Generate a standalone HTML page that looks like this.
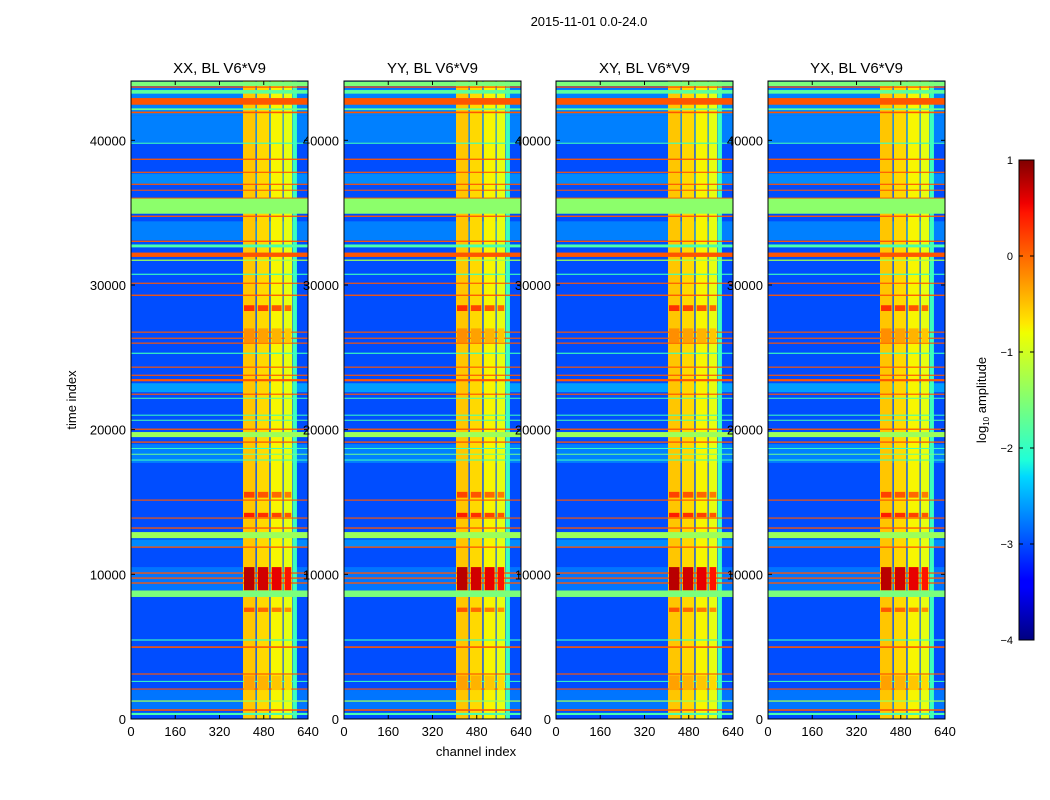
<!DOCTYPE html>
<html><head><meta charset="utf-8"><style>
body{margin:0;background:#fff;}
svg{display:block;font-family:"Liberation Sans","DejaVu Sans",sans-serif;}
</style></head><body>
<svg id="chart" width="1050" height="800" viewBox="0 0 1050 800" xmlns="http://www.w3.org/2000/svg">
<defs>
<linearGradient id="jetgrad" x1="0" y1="1" x2="0" y2="0">
<stop offset="0" stop-color="#000080"/><stop offset="0.11" stop-color="#0000ff"/><stop offset="0.125" stop-color="#0000ff"/>
<stop offset="0.34" stop-color="#00d8ff"/><stop offset="0.375" stop-color="#20ffd8"/><stop offset="0.64" stop-color="#f0ff00"/>
<stop offset="0.66" stop-color="#ffe800"/><stop offset="0.89" stop-color="#ff1400"/><stop offset="0.91" stop-color="#f00000"/><stop offset="1" stop-color="#800000"/>
</linearGradient>
</defs>
<text x="589" y="26" font-size="13" text-anchor="middle">2015-11-01 0.0-24.0</text>
<g id="panels"></g>
<text x="476" y="756" font-size="13" text-anchor="middle">channel index</text>
<text x="76" y="400" font-size="13" text-anchor="middle" transform="rotate(-90 76 400)">time index</text>
<g>
<rect x="1019" y="160" width="15" height="480" fill="url(#jetgrad)" stroke="#000" stroke-width="1"/>
<g id="cbticks"></g>
<text x="986" y="400" font-size="13" text-anchor="middle" transform="rotate(-90 986 400)">log<tspan font-size="8" dy="3">10</tspan><tspan dy="-3"> amplitude</tspan></text>
</g>
</svg>
<script>
// ---- data ----
const panelTitles = ["XX, BL V6*V9","YY, BL V6*V9","XY, BL V6*V9","YX, BL V6*V9"];
const panelLefts = [131, 344, 556, 768];
const xTicks = [0,160,320,480,640];
const yTicks = [0,10000,20000,30000,40000];
const cbTicks = [1,0,-1,-2,-3,-4];
// background segments (time start, time end, log10 level)
const bgStart = [0, 39860, 37000, 33100, 22590, 17700, 11900, 8900, 600, 41700];
const bgEnd   = [44100, 41700, 37700, 34400, 23210, 19000, 12400, 10500, 2000, 43600];
const bgLevel = [-3.0, -2.75, -2.7, -2.75, -2.6, -2.75, -2.7, -2.8, -2.8, -2.75];
// channel column groups in the RFI region
const colStart = [405, 455, 505, 552, 585];
const colEnd   = [450, 500, 548, 583, 600];
const colLevel = [-0.5, -0.6, -0.75, -0.85, -1.9];
// horizontal stripes (time centre, width, level)
const stripeT = [43900,43680,43350,42690,42150,41930,39800,38690,37790,36960,36550,35990,35450,34750,33020,32700,32090,31710,30740,30120,29290,26740,26320,25980,25280,24320,23760,23420,22450,22170,21000,20650,20030,19660,19140,18700,18300,17900,15130,13890,13200,12710,11880,10090,9740,9400,8660,5460,4970,3110,2600,2070,1240,620,350];
const stripeW = [300,90,250,460,120,110,80,90,80,80,70,100,1050,90,90,200,300,90,80,80,90,80,80,80,80,80,80,150,80,70,70,70,90,350,90,70,70,70,80,80,90,420,90,90,90,90,450,80,110,80,70,80,90,110,150];
const stripeLevel = [-1.5,0.1,-1.7,0.1,-1.6,0.1,-1.9,0.1,0.1,0.1,0.1,0.1,-1.4,0.1,0.1,-1.8,0.1,-1.3,-1.9,0.1,0.1,0.1,0.1,0.1,-1.9,0.1,0.1,0.1,0.1,-1.8,-1.9,-1.8,0.1,-1.3,0.1,-1.9,-1.6,-1.9,0.1,0.1,0.1,-1.3,0.1,0.1,0.1,0.1,-1.5,-1.9,0.1,0.1,-1.9,0.1,-1.3,0.1,-1.8];
// strong RFI blocks in the column groups (time start, time end, level)
const rfiStart = [28200, 15300, 13950, 8900, 7400, 26000, 2000];
const rfiEnd   = [28600, 15700, 14250, 10500, 7700, 27000, 3000];
const rfiLevel = [0.3, 0.2, 0.4, 0.75, 0.1, -0.2, -0.3];

// ---- scales ----
const T_MAX = 44100, PW = 177, TOP = 81, BOT = 719;
const xScale = (left, ch) => left + ch / 640 * PW;
const yScale = t => BOT - t / T_MAX * (BOT - TOP);
const cbScale = v => 160 + (1 - v) / 5 * 480;
function interp(pts, x){for(let i=1;i<pts.length;i++){if(x<=pts[i][0]){const a=pts[i-1],b=pts[i];return a[1]+(b[1]-a[1])*(x-a[0])/(b[0]-a[0]);}}return pts[pts.length-1][1];}
function jet(v){const x=Math.max(0,Math.min(1,(v+4)/5));
 const r=interp([[0,0],[0.35,0],[0.66,1],[0.89,1],[1,0.5]],x);
 const g=interp([[0,0],[0.125,0],[0.375,1],[0.64,1],[0.91,0],[1,0]],x);
 const b=interp([[0,0.5],[0.11,1],[0.34,1],[0.65,0],[1,0]],x);
 return `rgb(${Math.round(r*255)},${Math.round(g*255)},${Math.round(b*255)})`;}
const NS="http://www.w3.org/2000/svg";
function mk(tag, attrs, parent){const e=document.createElementNS(NS,tag);for(const k in attrs)e.setAttribute(k,attrs[k]);parent.appendChild(e);return e;}

const panelsG = document.getElementById('panels');
panelLefts.forEach((L, p) => {
  const g = mk('g', {}, panelsG);
  
  
  const X = ch => xScale(L, ch);
  bgStart.forEach((s, i) => {
    const r = mk('rect', {x:L, y:yScale(bgEnd[i]), width:PW, height:yScale(s)-yScale(bgEnd[i]), fill:jet(bgLevel[i])}, g);
    
    
  });
  colStart.forEach((c, i) => {
    const r = mk('rect', {x:X(c), y:TOP, width:X(colEnd[i])-X(c), height:BOT-TOP, fill:jet(colLevel[i])}, g);
    
    
  });
  stripeT.forEach((t, i) => {
    const y0 = yScale(t + stripeW[i]/2), y1 = yScale(t - stripeW[i]/2);
    const r = mk('rect', {x:L, y:y0, width:PW, height:Math.max(1,y1-y0), fill:jet(stripeLevel[i])}, g);
    
    
  });
  rfiStart.forEach((s, i) => {
    colStart.slice(0,4).forEach((c, j) => {
      const r = mk('rect', {x:X(c)+1, y:yScale(rfiEnd[i]), width:X(colEnd[j])-X(c)-2, height:yScale(s)-yScale(rfiEnd[i]), fill:jet(rfiLevel[i]-0.1*j)}, g);
      
      
    });
  });
  mk('rect', {x:L, y:TOP, width:PW, height:BOT-TOP, fill:'none', stroke:'#000', 'stroke-width':1}, g);
  const tt = mk('text', {x:L+PW/2, y:73, 'font-size':15, 'text-anchor':'middle'}, g);
  tt.textContent = panelTitles[p];
  
  
});
const lab = mk('g', {}, panelsG);
panelLefts.forEach(L => {
  xTicks.forEach(v => {
    const x = xScale(L, v);
    mk('line', {x1:x, x2:x, y1:BOT, y2:BOT-4, stroke:'#000'}, lab);
    mk('line', {x1:x, x2:x, y1:TOP, y2:TOP+4, stroke:'#000'}, lab);
    const t = mk('text', {x:x, y:BOT+17, 'font-size':13, 'text-anchor':'middle'}, lab);
    t.textContent = v;
    
    
  });
  yTicks.forEach(v => {
    const y = yScale(v);
    mk('line', {x1:L, x2:L+4, y1:y, y2:y, stroke:'#000'}, lab);
    mk('line', {x1:L+PW, x2:L+PW-4, y1:y, y2:y, stroke:'#000'}, lab);
    const t = mk('text', {x:L-5, y:y+5, 'font-size':13, 'text-anchor':'end'}, lab);
    t.textContent = v;
    
    
  });
});
const cbg = document.getElementById('cbticks');
cbTicks.forEach(v => {
  const y = cbScale(v);
  mk('line', {x1:1019, x2:1023, y1:y, y2:y, stroke:'#000'}, cbg);
  mk('line', {x1:1034, x2:1030, y1:y, y2:y, stroke:'#000'}, cbg);
  const t = mk('text', {x:1013, y:y+4, 'font-size':11, 'text-anchor':'end'}, cbg);
  t.textContent = v < 0 ? '\u2212' + Math.abs(v) : String(v);
  
  
});
</script>
</body></html>
